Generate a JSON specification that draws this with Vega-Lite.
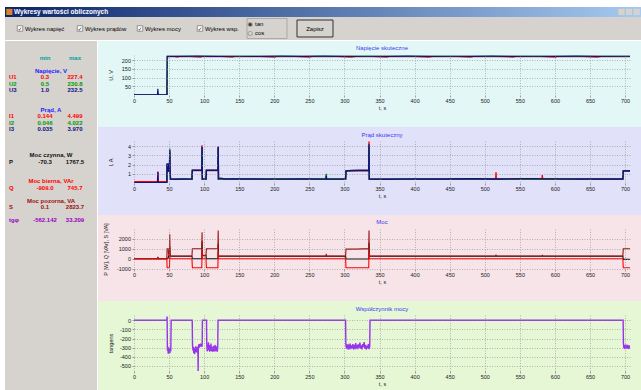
{
  "$schema": "https://vega.github.io/schema/vega-lite/v6.json",
  "background": "white",
  "padding": {"left": 5, "top": 7, "right": 0, "bottom": 0},
  "spacing": 0,
  "config": {
    "font": "Liberation Sans",
    "view": {"stroke": null},
    "concat": {"spacing": 0},
    "axis": {
      "labelFont": "Liberation Sans", "labelFontSize": 5.5, "labelColor": "#1a1a1a",
      "titleFont": "Liberation Sans", "titleFontSize": 5.5, "titleFontWeight": "normal", "titleColor": "#1a1a1a",
      "domain": false, "tickSize": 2, "tickColor": "#666666", "tickWidth": 0.6,
      "grid": true, "gridColor": "#8c8c8c", "gridDash": [1, 1.5], "gridWidth": 0.6,
      "labelPadding": 1.5, "labelOverlap": false, "labelFlush": false
    },
    "legend": {
      "labelFont": "Liberation Sans", "labelFontSize": 5, "labelColor": "#222222",
      "symbolType": "stroke", "symbolSize": 20, "symbolStrokeWidth": 1,
      "columnPadding": 3, "padding": 1.5, "fillColor": "#ffffff", "strokeColor": "#222222", "labelOffset": 1
    },
    "title": {"font": "Liberation Sans", "fontSize": 6, "fontWeight": "normal", "color": "#3a3af0", "anchor": "middle"}
  },
  "datasets": {
    "stats": [
      {"line": 0, "col": "min", "text": "min", "tone": "mm"},
      {"line": 0, "col": "max", "text": "max", "tone": "mm"},
      {"line": 2, "col": "head", "text": "Napięcie, V", "tone": "hdr"},
      {"line": 3, "col": "name", "text": "U1", "tone": "U1"},
      {"line": 3, "col": "min", "text": "0.3", "tone": "U1"},
      {"line": 3, "col": "max", "text": "227.4", "tone": "U1"},
      {"line": 4, "col": "name", "text": "U2", "tone": "U2"},
      {"line": 4, "col": "min", "text": "0.5", "tone": "U2"},
      {"line": 4, "col": "max", "text": "230.8", "tone": "U2"},
      {"line": 5, "col": "name", "text": "U3", "tone": "U3"},
      {"line": 5, "col": "min", "text": "1.0", "tone": "U3"},
      {"line": 5, "col": "max", "text": "232.5", "tone": "U3"},
      {"line": 8, "col": "head", "text": "Prąd, A", "tone": "hdr"},
      {"line": 9, "col": "name", "text": "I1", "tone": "I1"},
      {"line": 9, "col": "min", "text": "0.144", "tone": "I1"},
      {"line": 9, "col": "max", "text": "4.499", "tone": "I1"},
      {"line": 10, "col": "name", "text": "I2", "tone": "I2"},
      {"line": 10, "col": "min", "text": "0.046", "tone": "I2"},
      {"line": 10, "col": "max", "text": "4.022", "tone": "I2"},
      {"line": 11, "col": "name", "text": "I3", "tone": "I3"},
      {"line": 11, "col": "min", "text": "0.035", "tone": "I3"},
      {"line": 11, "col": "max", "text": "3.970", "tone": "I3"},
      {"line": 15, "col": "head", "text": "Moc czynna, W", "tone": "P"},
      {"line": 16, "col": "name", "text": "P", "tone": "P"},
      {"line": 16, "col": "min", "text": "-70.3", "tone": "P"},
      {"line": 16, "col": "max", "text": "1767.5", "tone": "P"},
      {"line": 19, "col": "head", "text": "Moc bierna, VAr", "tone": "Q"},
      {"line": 20, "col": "name", "text": "Q", "tone": "Q"},
      {"line": 20, "col": "min", "text": "-909.0", "tone": "Q"},
      {"line": 20, "col": "max", "text": "745.7", "tone": "Q"},
      {"line": 22, "col": "head", "text": "Moc pozorna, VA", "tone": "S"},
      {"line": 23, "col": "name", "text": "S", "tone": "S"},
      {"line": 23, "col": "min", "text": "0.1", "tone": "S"},
      {"line": 23, "col": "max", "text": "2823.7", "tone": "S"},
      {"line": 25, "col": "name", "text": "tgφ", "tone": "tg"},
      {"line": 25, "col": "min", "text": "-562.142", "tone": "tg"},
      {"line": 25, "col": "max", "text": "33.209", "tone": "tg"}
    ],
    "toolbar": [
      {"part": "napiec", "kind": "check", "label": "Wykres napięć"},
      {"part": "pradow", "kind": "check", "label": "Wykres prądów"},
      {"part": "mocy", "kind": "check", "label": "Wykres mocy"},
      {"part": "wsp", "kind": "check", "label": "Wykres wsp."},
      {"part": "tg", "kind": "radio", "label": "tan"},
      {"part": "tg", "kind": "radio", "label": "cos"},
      {"part": "zapisz", "kind": "button", "label": "Zapisz"}
    ],
    "volt": [
      {"t": 0, "s": "U1", "v": 0.3}, {"t": 33.6, "s": "U1", "v": 0.3}, {"t": 34, "s": "U1", "v": 20}, {"t": 34.4, "s": "U1", "v": 0.3},
      {"t": 47.3, "s": "U1", "v": 0.3}, {"t": 47.7, "s": "U1", "v": 221.0}, {"t": 55, "s": "U1", "v": 221.4}, {"t": 62, "s": "U1", "v": 218.2},
      {"t": 66, "s": "U1", "v": 221.2}, {"t": 80, "s": "U1", "v": 220.8}, {"t": 95, "s": "U1", "v": 218.0}, {"t": 99, "s": "U1", "v": 221.3},
      {"t": 125, "s": "U1", "v": 221.0}, {"t": 140, "s": "U1", "v": 218.3}, {"t": 146, "s": "U1", "v": 221.4}, {"t": 180, "s": "U1", "v": 220.9},
      {"t": 200, "s": "U1", "v": 217.9}, {"t": 206, "s": "U1", "v": 221.2}, {"t": 230, "s": "U1", "v": 221.0}, {"t": 250, "s": "U1", "v": 218.2},
      {"t": 256, "s": "U1", "v": 221.3}, {"t": 290, "s": "U1", "v": 220.8}, {"t": 310, "s": "U1", "v": 218.1}, {"t": 316, "s": "U1", "v": 221.2},
      {"t": 340, "s": "U1", "v": 221.0}, {"t": 360, "s": "U1", "v": 218.0}, {"t": 366, "s": "U1", "v": 221.4}, {"t": 400, "s": "U1", "v": 220.9},
      {"t": 420, "s": "U1", "v": 218.2}, {"t": 426, "s": "U1", "v": 221.1}, {"t": 460, "s": "U1", "v": 221.0}, {"t": 480, "s": "U1", "v": 218.1},
      {"t": 486, "s": "U1", "v": 221.3}, {"t": 520, "s": "U1", "v": 220.8}, {"t": 540, "s": "U1", "v": 218.0}, {"t": 546, "s": "U1", "v": 221.2},
      {"t": 580, "s": "U1", "v": 221.0}, {"t": 600, "s": "U1", "v": 218.2}, {"t": 606, "s": "U1", "v": 221.3}, {"t": 640, "s": "U1", "v": 220.9},
      {"t": 660, "s": "U1", "v": 218.1}, {"t": 666, "s": "U1", "v": 221.1}, {"t": 700, "s": "U1", "v": 221.0}, {"t": 707, "s": "U1", "v": 220.9},
      {"t": 0, "s": "U2", "v": 0.5}, {"t": 47.3, "s": "U2", "v": 0.5}, {"t": 47.7, "s": "U2", "v": 222.2}, {"t": 80, "s": "U2", "v": 222.4},
      {"t": 120, "s": "U2", "v": 221.9}, {"t": 160, "s": "U2", "v": 222.5}, {"t": 200, "s": "U2", "v": 222.1}, {"t": 240, "s": "U2", "v": 222.4},
      {"t": 280, "s": "U2", "v": 221.8}, {"t": 320, "s": "U2", "v": 222.3}, {"t": 360, "s": "U2", "v": 222.0}, {"t": 400, "s": "U2", "v": 222.5},
      {"t": 440, "s": "U2", "v": 222.2}, {"t": 480, "s": "U2", "v": 222.4}, {"t": 520, "s": "U2", "v": 221.9}, {"t": 560, "s": "U2", "v": 222.5},
      {"t": 600, "s": "U2", "v": 222.1}, {"t": 640, "s": "U2", "v": 222.4}, {"t": 680, "s": "U2", "v": 222.0}, {"t": 707, "s": "U2", "v": 222.3},
      {"t": 0, "s": "U3", "v": 1.0}, {"t": 33.6, "s": "U3", "v": 1.0}, {"t": 34, "s": "U3", "v": 36}, {"t": 34.4, "s": "U3", "v": 1.0},
      {"t": 46.8, "s": "U3", "v": 1.0}, {"t": 47.2, "s": "U3", "v": 222.8}, {"t": 60, "s": "U3", "v": 222.6}, {"t": 90, "s": "U3", "v": 223.0},
      {"t": 120, "s": "U3", "v": 222.5}, {"t": 150, "s": "U3", "v": 222.9}, {"t": 180, "s": "U3", "v": 222.4}, {"t": 210, "s": "U3", "v": 223.0},
      {"t": 240, "s": "U3", "v": 222.6}, {"t": 270, "s": "U3", "v": 223.1}, {"t": 300, "s": "U3", "v": 222.5}, {"t": 330, "s": "U3", "v": 222.9},
      {"t": 360, "s": "U3", "v": 222.6}, {"t": 390, "s": "U3", "v": 223.0}, {"t": 420, "s": "U3", "v": 222.4}, {"t": 450, "s": "U3", "v": 222.9},
      {"t": 480, "s": "U3", "v": 222.6}, {"t": 510, "s": "U3", "v": 223.0}, {"t": 540, "s": "U3", "v": 222.5}, {"t": 570, "s": "U3", "v": 222.9},
      {"t": 600, "s": "U3", "v": 222.6}, {"t": 630, "s": "U3", "v": 223.0}, {"t": 660, "s": "U3", "v": 222.5}, {"t": 690, "s": "U3", "v": 222.9},
      {"t": 707, "s": "U3", "v": 222.7}
    ],
    "curr": [
      {"t": 0, "s": "I1", "v": 0.144}, {"t": 33.6, "s": "I1", "v": 0.144}, {"t": 34, "s": "I1", "v": 1.25}, {"t": 34.4, "s": "I1", "v": 0.144},
      {"t": 46.8, "s": "I1", "v": 0.144}, {"t": 47.2, "s": "I1", "v": 2.0}, {"t": 48.8, "s": "I1", "v": 2.0}, {"t": 49.2, "s": "I1", "v": 1.28},
      {"t": 50.6, "s": "I1", "v": 1.28}, {"t": 51, "s": "I1", "v": 3.4}, {"t": 51.4, "s": "I1", "v": 1.28}, {"t": 52, "s": "I1", "v": 0.4},
      {"t": 82.6, "s": "I1", "v": 0.4}, {"t": 83.2, "s": "I1", "v": 1.36}, {"t": 96.6, "s": "I1", "v": 1.36}, {"t": 97, "s": "I1", "v": 4.1},
      {"t": 97.4, "s": "I1", "v": 0.4}, {"t": 102.6, "s": "I1", "v": 0.4}, {"t": 103.2, "s": "I1", "v": 1.36}, {"t": 119.6, "s": "I1", "v": 1.36},
      {"t": 120, "s": "I1", "v": 3.9}, {"t": 120.4, "s": "I1", "v": 0.42}, {"t": 301.6, "s": "I1", "v": 0.42}, {"t": 302.2, "s": "I1", "v": 1.32},
      {"t": 334.6, "s": "I1", "v": 1.36}, {"t": 335, "s": "I1", "v": 4.5}, {"t": 335.4, "s": "I1", "v": 0.4}, {"t": 515.6, "s": "I1", "v": 0.4},
      {"t": 516, "s": "I1", "v": 1.15}, {"t": 516.4, "s": "I1", "v": 0.4}, {"t": 581.6, "s": "I1", "v": 0.4}, {"t": 582, "s": "I1", "v": 0.85},
      {"t": 582.4, "s": "I1", "v": 0.4}, {"t": 696.8, "s": "I1", "v": 0.42}, {"t": 697.4, "s": "I1", "v": 1.3}, {"t": 707, "s": "I1", "v": 1.3},
      {"t": 0, "s": "I2", "v": 0.046}, {"t": 46.8, "s": "I2", "v": 0.046}, {"t": 47.2, "s": "I2", "v": 2.0}, {"t": 48.8, "s": "I2", "v": 2.0},
      {"t": 49.2, "s": "I2", "v": 1.3}, {"t": 50.6, "s": "I2", "v": 1.3}, {"t": 51, "s": "I2", "v": 3.75}, {"t": 51.4, "s": "I2", "v": 1.3},
      {"t": 52, "s": "I2", "v": 0.41}, {"t": 82.6, "s": "I2", "v": 0.41}, {"t": 83.2, "s": "I2", "v": 1.37}, {"t": 96.6, "s": "I2", "v": 1.37},
      {"t": 97, "s": "I2", "v": 3.8}, {"t": 97.4, "s": "I2", "v": 0.41}, {"t": 102.6, "s": "I2", "v": 0.41}, {"t": 103.2, "s": "I2", "v": 1.37},
      {"t": 119.6, "s": "I2", "v": 1.37}, {"t": 120, "s": "I2", "v": 3.8}, {"t": 120.4, "s": "I2", "v": 0.43}, {"t": 273.6, "s": "I2", "v": 0.43},
      {"t": 274, "s": "I2", "v": 1.0}, {"t": 274.4, "s": "I2", "v": 0.43}, {"t": 301.6, "s": "I2", "v": 0.43}, {"t": 302.2, "s": "I2", "v": 1.33},
      {"t": 334.6, "s": "I2", "v": 1.37}, {"t": 335, "s": "I2", "v": 4.0}, {"t": 335.4, "s": "I2", "v": 0.41}, {"t": 696.8, "s": "I2", "v": 0.42},
      {"t": 697.4, "s": "I2", "v": 1.3}, {"t": 707, "s": "I2", "v": 1.31},
      {"t": 0, "s": "I3", "v": 0.035}, {"t": 33.6, "s": "I3", "v": 0.035}, {"t": 34, "s": "I3", "v": 1.15}, {"t": 34.4, "s": "I3", "v": 0.035},
      {"t": 46.8, "s": "I3", "v": 0.035}, {"t": 47.2, "s": "I3", "v": 2.05}, {"t": 48.8, "s": "I3", "v": 2.05}, {"t": 49.2, "s": "I3", "v": 1.3},
      {"t": 50.6, "s": "I3", "v": 1.3}, {"t": 51, "s": "I3", "v": 3.55}, {"t": 51.4, "s": "I3", "v": 1.3}, {"t": 52, "s": "I3", "v": 0.42},
      {"t": 60, "s": "I3", "v": 0.41}, {"t": 70, "s": "I3", "v": 0.43}, {"t": 82.6, "s": "I3", "v": 0.42}, {"t": 83.2, "s": "I3", "v": 1.38},
      {"t": 90, "s": "I3", "v": 1.4}, {"t": 96.6, "s": "I3", "v": 1.38}, {"t": 97, "s": "I3", "v": 3.95}, {"t": 97.4, "s": "I3", "v": 0.42},
      {"t": 102.6, "s": "I3", "v": 0.42}, {"t": 103.2, "s": "I3", "v": 1.38}, {"t": 110, "s": "I3", "v": 1.4}, {"t": 119.6, "s": "I3", "v": 1.38},
      {"t": 120, "s": "I3", "v": 3.95}, {"t": 120.4, "s": "I3", "v": 0.45}, {"t": 123, "s": "I3", "v": 0.52}, {"t": 130, "s": "I3", "v": 0.44},
      {"t": 160, "s": "I3", "v": 0.43}, {"t": 200, "s": "I3", "v": 0.42}, {"t": 240, "s": "I3", "v": 0.43}, {"t": 273.6, "s": "I3", "v": 0.42},
      {"t": 274, "s": "I3", "v": 0.8}, {"t": 274.4, "s": "I3", "v": 0.42}, {"t": 301.6, "s": "I3", "v": 0.42}, {"t": 302.2, "s": "I3", "v": 1.3},
      {"t": 310, "s": "I3", "v": 1.36}, {"t": 320, "s": "I3", "v": 1.38}, {"t": 334.6, "s": "I3", "v": 1.38}, {"t": 335, "s": "I3", "v": 4.2},
      {"t": 335.4, "s": "I3", "v": 0.42}, {"t": 360, "s": "I3", "v": 0.4}, {"t": 400, "s": "I3", "v": 0.45}, {"t": 440, "s": "I3", "v": 0.43},
      {"t": 480, "s": "I3", "v": 0.46}, {"t": 520, "s": "I3", "v": 0.44}, {"t": 560, "s": "I3", "v": 0.47}, {"t": 600, "s": "I3", "v": 0.45},
      {"t": 640, "s": "I3", "v": 0.44}, {"t": 680, "s": "I3", "v": 0.43}, {"t": 696.8, "s": "I3", "v": 0.43}, {"t": 697.4, "s": "I3", "v": 1.3},
      {"t": 707, "s": "I3", "v": 1.32}
    ],
    "power": [
      {"t": 0, "s": "P", "v": -20}, {"t": 33.6, "s": "P", "v": -20}, {"t": 34, "s": "P", "v": 150}, {"t": 34.4, "s": "P", "v": -20},
      {"t": 46.8, "s": "P", "v": -20}, {"t": 47.2, "s": "P", "v": 50}, {"t": 48.8, "s": "P", "v": 50}, {"t": 49.2, "s": "P", "v": 300},
      {"t": 50.6, "s": "P", "v": 300}, {"t": 51, "s": "P", "v": 1200}, {"t": 51.4, "s": "P", "v": 300}, {"t": 52, "s": "P", "v": 245},
      {"t": 82.6, "s": "P", "v": 245}, {"t": 83.2, "s": "P", "v": -10}, {"t": 96.6, "s": "P", "v": -10}, {"t": 97, "s": "P", "v": 1767},
      {"t": 97.4, "s": "P", "v": 310}, {"t": 102.6, "s": "P", "v": 310}, {"t": 103.2, "s": "P", "v": -10}, {"t": 119.6, "s": "P", "v": -10},
      {"t": 120, "s": "P", "v": 1500}, {"t": 120.4, "s": "P", "v": 250}, {"t": 301.6, "s": "P", "v": 248}, {"t": 302.2, "s": "P", "v": -30},
      {"t": 334.6, "s": "P", "v": -30}, {"t": 335, "s": "P", "v": 1600}, {"t": 335.4, "s": "P", "v": 250}, {"t": 696.8, "s": "P", "v": 250},
      {"t": 697.4, "s": "P", "v": -70}, {"t": 707, "s": "P", "v": -60},
      {"t": 0, "s": "S", "v": 5}, {"t": 33.6, "s": "S", "v": 5}, {"t": 34, "s": "S", "v": 180}, {"t": 34.4, "s": "S", "v": 5},
      {"t": 46.8, "s": "S", "v": 5}, {"t": 47.2, "s": "S", "v": 1000}, {"t": 48.8, "s": "S", "v": 1000}, {"t": 49.2, "s": "S", "v": 450},
      {"t": 50.6, "s": "S", "v": 450}, {"t": 51, "s": "S", "v": 2450}, {"t": 51.4, "s": "S", "v": 400}, {"t": 52, "s": "S", "v": 265},
      {"t": 82.6, "s": "S", "v": 265}, {"t": 83.2, "s": "S", "v": 1000}, {"t": 96.6, "s": "S", "v": 1000}, {"t": 97, "s": "S", "v": 2650},
      {"t": 97.4, "s": "S", "v": 330}, {"t": 102.6, "s": "S", "v": 330}, {"t": 103.2, "s": "S", "v": 1000}, {"t": 119.6, "s": "S", "v": 1000},
      {"t": 120, "s": "S", "v": 2820}, {"t": 120.4, "s": "S", "v": 280}, {"t": 140, "s": "S", "v": 265}, {"t": 200, "s": "S", "v": 262},
      {"t": 273.6, "s": "S", "v": 262}, {"t": 274, "s": "S", "v": 500}, {"t": 274.4, "s": "S", "v": 262}, {"t": 301.6, "s": "S", "v": 262},
      {"t": 302.2, "s": "S", "v": 960}, {"t": 310, "s": "S", "v": 975}, {"t": 318, "s": "S", "v": 960}, {"t": 326, "s": "S", "v": 980},
      {"t": 334.6, "s": "S", "v": 990}, {"t": 335, "s": "S", "v": 2823}, {"t": 335.4, "s": "S", "v": 270}, {"t": 400, "s": "S", "v": 268},
      {"t": 515.6, "s": "S", "v": 268}, {"t": 516, "s": "S", "v": 420}, {"t": 516.4, "s": "S", "v": 268}, {"t": 581.6, "s": "S", "v": 268},
      {"t": 582, "s": "S", "v": 380}, {"t": 582.4, "s": "S", "v": 268}, {"t": 696.8, "s": "S", "v": 268}, {"t": 697.4, "s": "S", "v": 1000},
      {"t": 707, "s": "S", "v": 1000},
      {"t": 0, "s": "Q", "v": 0}, {"t": 46.8, "s": "Q", "v": 0}, {"t": 47.2, "s": "Q", "v": -909}, {"t": 50.6, "s": "Q", "v": -909},
      {"t": 51, "s": "Q", "v": 600}, {"t": 51.4, "s": "Q", "v": 0}, {"t": 82.6, "s": "Q", "v": 0}, {"t": 83.2, "s": "Q", "v": -905},
      {"t": 96.6, "s": "Q", "v": -905}, {"t": 97, "s": "Q", "v": 745}, {"t": 97.4, "s": "Q", "v": 0}, {"t": 102.6, "s": "Q", "v": 0},
      {"t": 103.2, "s": "Q", "v": -905}, {"t": 119.6, "s": "Q", "v": -905}, {"t": 120, "s": "Q", "v": 700}, {"t": 120.4, "s": "Q", "v": 0},
      {"t": 301.6, "s": "Q", "v": 0}, {"t": 302.2, "s": "Q", "v": -895}, {"t": 334.6, "s": "Q", "v": -900}, {"t": 335, "s": "Q", "v": 730},
      {"t": 335.4, "s": "Q", "v": 0}, {"t": 696.8, "s": "Q", "v": 0}, {"t": 697.4, "s": "Q", "v": -900}, {"t": 707, "s": "Q", "v": -900}
    ],
    "tg": [
      {"t": 0, "v": 0}, {"t": 46.8, "v": 0}, {"t": 47.2, "v": 40}, {"t": 47.6, "v": -330}, {"t": 48.2, "v": -290}, {"t": 48.8, "v": -365},
      {"t": 49.4, "v": -300}, {"t": 50, "v": -350}, {"t": 50.6, "v": -320}, {"t": 51.2, "v": -360}, {"t": 51.8, "v": -300}, {"t": 52.4, "v": -340},
      {"t": 53, "v": 0}, {"t": 83, "v": 0}, {"t": 83.4, "v": -270}, {"t": 84, "v": -330}, {"t": 84.6, "v": -290}, {"t": 85.2, "v": -360},
      {"t": 85.8, "v": -300}, {"t": 86.4, "v": -370}, {"t": 87, "v": -310}, {"t": 87.6, "v": -350}, {"t": 88.2, "v": -285}, {"t": 88.8, "v": -345},
      {"t": 89.4, "v": -300}, {"t": 90, "v": -355}, {"t": 90.6, "v": -290}, {"t": 91.1, "v": -330}, {"t": 91.4, "v": -560}, {"t": 91.7, "v": -300},
      {"t": 92.3, "v": -265}, {"t": 93, "v": -300}, {"t": 93.6, "v": -260}, {"t": 94.2, "v": -290}, {"t": 94.8, "v": -255}, {"t": 95.4, "v": -285},
      {"t": 96, "v": -260}, {"t": 96.6, "v": -290}, {"t": 97.2, "v": -270}, {"t": 97.5, "v": 0}, {"t": 103.4, "v": 0}, {"t": 103.7, "v": -260},
      {"t": 104.3, "v": -340}, {"t": 104.9, "v": -280}, {"t": 105.5, "v": -320}, {"t": 106.1, "v": -240}, {"t": 106.7, "v": -330}, {"t": 107.3, "v": -270},
      {"t": 107.9, "v": -345}, {"t": 108.5, "v": -290}, {"t": 109.1, "v": -330}, {"t": 109.7, "v": -255}, {"t": 110.3, "v": -335}, {"t": 110.9, "v": -290},
      {"t": 111.5, "v": -345}, {"t": 112.1, "v": -300}, {"t": 112.7, "v": -330}, {"t": 113.3, "v": -280}, {"t": 113.9, "v": -345}, {"t": 114.5, "v": -300},
      {"t": 115.1, "v": -335}, {"t": 115.7, "v": -270}, {"t": 116.3, "v": -340}, {"t": 116.9, "v": -300}, {"t": 117.5, "v": -330}, {"t": 118.1, "v": -285},
      {"t": 118.7, "v": -345}, {"t": 119.3, "v": -300}, {"t": 119.8, "v": 0}, {"t": 301.6, "v": 0}, {"t": 302, "v": -270}, {"t": 303, "v": -310},
      {"t": 304, "v": -265}, {"t": 305, "v": -320}, {"t": 306, "v": -280}, {"t": 307, "v": -300}, {"t": 308, "v": -255}, {"t": 309, "v": -315},
      {"t": 310, "v": -275}, {"t": 311, "v": -305}, {"t": 312, "v": -260}, {"t": 313, "v": -320}, {"t": 314, "v": -285}, {"t": 315, "v": -300},
      {"t": 316, "v": -250}, {"t": 317, "v": -310}, {"t": 318, "v": -270}, {"t": 319, "v": -315}, {"t": 320, "v": -265}, {"t": 321, "v": -300},
      {"t": 322, "v": -245}, {"t": 323, "v": -310}, {"t": 324, "v": -275}, {"t": 325, "v": -320}, {"t": 326, "v": -260}, {"t": 327, "v": -295},
      {"t": 328, "v": -240}, {"t": 329, "v": -310}, {"t": 330, "v": -270}, {"t": 331, "v": -320}, {"t": 332, "v": -280}, {"t": 333, "v": -305},
      {"t": 334, "v": -260}, {"t": 335, "v": -315}, {"t": 336, "v": -285}, {"t": 336.4, "v": 0}, {"t": 697.2, "v": 0}, {"t": 697.6, "v": -250},
      {"t": 698.2, "v": -305}, {"t": 698.8, "v": -270}, {"t": 699.4, "v": -315}, {"t": 700, "v": -280}, {"t": 700.6, "v": -300}, {"t": 701.2, "v": -265},
      {"t": 701.8, "v": -310}, {"t": 702.4, "v": -285}, {"t": 703, "v": -300}, {"t": 703.6, "v": -270}, {"t": 704.2, "v": -315}, {"t": 704.8, "v": -290},
      {"t": 705.4, "v": -305}, {"t": 706, "v": -275}, {"t": 706.6, "v": -310}, {"t": 707, "v": -290}
    ]
  },
  "vconcat": [
    {
      "width": 636,
      "height": 10,
      "data": {"values": [{"caption": "Wykresy wartości obliczonych"}]},
      "layer": [
        {
          "mark": {"type": "rect", "color": {"gradient": "linear", "x1": 0, "y1": 0, "x2": 1, "y2": 0, "stops": [{"offset": 0, "color": "#0a246a"}, {"offset": 1, "color": "#a6caf0"}]}},
          "encoding": {}
        },
        {
          "mark": {"type": "text", "text": "■", "font": "DejaVu Sans", "fontSize": 8, "color": "#d9822b", "align": "center", "dx": 4},
          "encoding": {"x": {"datum": 0, "type": "quantitative", "scale": {"domain": [0, 1], "nice": false, "zero": false}, "axis": null}}
        },
        {
          "mark": {"type": "text", "fontSize": 6.5, "fontWeight": "bold", "color": "#ffffff", "align": "left", "dx": 9},
          "encoding": {
            "x": {"datum": 0, "type": "quantitative", "scale": {"domain": [0, 1], "nice": false, "zero": false}, "axis": null},
            "text": {"field": "caption"}
          }
        },
        {
          "mark": {"type": "text", "text": "■■■", "font": "DejaVu Sans", "fontSize": 8, "color": "#d6d3ce", "align": "right", "dx": -1},
          "encoding": {"x": {"datum": 1, "type": "quantitative", "scale": {"domain": [0, 1], "nice": false, "zero": false}, "axis": null}}
        }
      ]
    },
    {
      "width": 636,
      "height": 23,
      "view": {"fill": "#d6d3ce", "stroke": null},
      "data": {"name": "toolbar"},
      "encoding": {
        "x": {"field": "part", "type": "nominal", "scale": {"type": "point", "padding": 0, "domain": ["napiec", "pradow", "mocy", "wsp", "tg", "zapisz"], "range": [15, 315]}, "axis": null}
      },
      "layer": [
        {
          "transform": [{"filter": "datum.label === 'tan'"}],
          "mark": {"type": "point", "shape": "M-0.65,-0.5L1.35,-0.5L1.35,0.5L-0.65,0.5Z", "size": 1600, "filled": false, "stroke": "#9a9a9a", "strokeWidth": 0.7, "opacity": 1}
        },
        {
          "transform": [{"filter": "datum.kind === 'check'"}],
          "mark": {"type": "point", "shape": "square", "size": 30, "filled": true, "fill": "#ffffff", "stroke": "#707070", "strokeWidth": 0.7, "opacity": 1}
        },
        {
          "transform": [{"filter": "datum.kind === 'check'"}],
          "mark": {"type": "text", "text": "✓", "font": "DejaVu Sans", "fontSize": 5.5, "color": "#000000"}
        },
        {
          "transform": [{"filter": "datum.kind === 'check'"}],
          "mark": {"type": "text", "fontSize": 6, "color": "#000000", "align": "left", "dx": 5},
          "encoding": {"text": {"field": "label"}}
        },
        {
          "transform": [{"filter": "datum.label === 'tan'"}],
          "mark": {"type": "text", "text": "◉", "font": "DejaVu Sans", "fontSize": 6, "color": "#333333", "dx": -10, "dy": -4.5}
        },
        {
          "transform": [{"filter": "datum.label === 'cos'"}],
          "mark": {"type": "text", "text": "○", "font": "DejaVu Sans", "fontSize": 6, "color": "#333333", "dx": -10, "dy": 4}
        },
        {
          "transform": [{"filter": "datum.label === 'tan'"}],
          "mark": {"type": "text", "fontSize": 6, "color": "#000000", "align": "left", "dx": -5, "dy": -4.5},
          "encoding": {"text": {"field": "label"}}
        },
        {
          "transform": [{"filter": "datum.label === 'cos'"}],
          "mark": {"type": "text", "fontSize": 6, "color": "#000000", "align": "left", "dx": -5, "dy": 4},
          "encoding": {"text": {"field": "label"}}
        },
        {
          "transform": [{"filter": "datum.kind === 'button'"}],
          "mark": {"type": "point", "shape": "M-1.278,-0.472L0.722,-0.472L0.722,0.472L-1.278,0.472Z", "size": 1296, "filled": true, "fill": "#d6d3ce", "stroke": "#333333", "strokeWidth": 1, "opacity": 1}
        },
        {
          "transform": [{"filter": "datum.kind === 'button'"}],
          "mark": {"type": "text", "fontSize": 6, "color": "#000000", "dx": -5},
          "encoding": {"text": {"field": "label"}}
        }
      ]
    },
    {
      "hconcat": [
        {
          "width": 92,
          "height": 336,
          "view": {"fill": "#d6d3ce", "stroke": null},
          "layer": [
            {
              "data": {"values": [{}]},
              "mark": {"type": "rect", "color": "#d6d3ce", "clip": false},
              "encoding": {
                "y": {"datum": -2.569, "type": "quantitative", "scale": {"domain": [-0.4154, 51.277], "reverse": true, "nice": false, "zero": false}, "axis": null},
                "y2": {"datum": 51.277}
              }
            },
            {
              "data": {"name": "stats"},
              "transform": [{"filter": "datum.col === 'name'"}],
              "mark": {"type": "text", "align": "left", "baseline": "middle", "dx": -6, "fontSize": 6, "fontWeight": "bold"},
              "encoding": {
                "x": {"field": "col", "type": "nominal", "scale": {"type": "point", "padding": 0, "domain": ["name", "min", "max"], "range": [10, 70]}, "axis": null},
                "y": {"field": "line", "type": "quantitative", "scale": {"domain": [-0.4154, 51.277], "reverse": true, "nice": false, "zero": false}, "axis": null},
                "text": {"field": "text"},
                "color": {"field": "tone", "type": "nominal", "legend": null,
                  "scale": {"domain": ["mm", "hdr", "U1", "U2", "U3", "I1", "I2", "I3", "P", "Q", "S", "tg"],
                    "range": ["#00a0a0", "#1a1aff", "#ff0000", "#009a00", "#101088", "#ff0000", "#009a00", "#101088", "#111111", "#ff0000", "#9a1010", "#9a00c0"]}}
              }
            },
            {
              "data": {"name": "stats"},
              "transform": [{"filter": "datum.col === 'min' || datum.col === 'max'"}],
              "mark": {"type": "text", "align": "center", "baseline": "middle", "fontSize": 6, "fontWeight": "bold"},
              "encoding": {
                "x": {"field": "col", "type": "nominal", "scale": {"type": "point", "padding": 0, "domain": ["name", "min", "max"], "range": [10, 70]}, "axis": null},
                "y": {"field": "line", "type": "quantitative", "scale": {"domain": [-0.4154, 51.277], "reverse": true, "nice": false, "zero": false}, "axis": null},
                "text": {"field": "text"},
                "color": {"field": "tone", "type": "nominal", "legend": null,
                  "scale": {"domain": ["mm", "hdr", "U1", "U2", "U3", "I1", "I2", "I3", "P", "Q", "S", "tg"],
                    "range": ["#00a0a0", "#1a1aff", "#ff0000", "#009a00", "#101088", "#ff0000", "#009a00", "#101088", "#111111", "#ff0000", "#9a1010", "#9a00c0"]}}
              }
            },
            {
              "data": {"name": "stats"},
              "transform": [{"filter": "datum.col === 'head'"}],
              "mark": {"type": "text", "align": "center", "baseline": "middle", "fontSize": 6, "fontWeight": "bold"},
              "encoding": {
                "y": {"field": "line", "type": "quantitative", "scale": {"domain": [-0.4154, 51.277], "reverse": true, "nice": false, "zero": false}, "axis": null},
                "text": {"field": "text"},
                "color": {"field": "tone", "type": "nominal", "legend": null,
                  "scale": {"domain": ["mm", "hdr", "U1", "U2", "U3", "I1", "I2", "I3", "P", "Q", "S", "tg"],
                    "range": ["#00a0a0", "#1a1aff", "#ff0000", "#009a00", "#101088", "#ff0000", "#009a00", "#101088", "#111111", "#ff0000", "#9a1010", "#9a00c0"]}}
              }
            }
          ]
        },
        {
          "bounds": "flush",
          "spacing": 46,
          "vconcat": [
            {
              "width": 496,
              "height": 40,
              "view": {"stroke": "#8a8a8a", "strokeWidth": 1.5},
              "title": {"text": "Napięcie skuteczne", "offset": -10},
              "layer": [
                {
                  "data": {"values": [{}]},
                  "mark": {"type": "rect", "color": "#e4f7f7", "clip": false},
                  "encoding": {
                    "x": {"datum": -51.31, "type": "quantitative", "scale": {"domain": [0, 707], "nice": false, "zero": false},
                      "axis": {"values": [0, 50, 100, 150, 200, 250, 300, 350, 400, 450, 500, 550, 600, 650, 700], "title": "t, s", "titlePadding": 1, "zindex": 1}},
                    "x2": {"datum": 724.1},
                    "y": {"datum": 310.5, "type": "quantitative", "scale": {"domain": [0, 230], "nice": false, "zero": false},
                      "axis": {"values": [50, 100, 150, 200], "title": "U, V", "titleX": -21, "titleY": 20, "zindex": 1}},
                    "y2": {"datum": -184}
                  }
                },
                {
                  "data": {"name": "volt"},
                  "mark": {"type": "line", "strokeWidth": 1.2, "clip": true},
                  "encoding": {
                    "x": {"field": "t", "type": "quantitative", "scale": {"domain": [0, 707], "nice": false, "zero": false},
                      "axis": {"values": [0, 50, 100, 150, 200, 250, 300, 350, 400, 450, 500, 550, 600, 650, 700], "title": "t, s", "titlePadding": 1, "zindex": 1}},
                    "y": {"field": "v", "type": "quantitative", "scale": {"domain": [0, 230], "nice": false, "zero": false},
                      "axis": {"values": [50, 100, 150, 200], "title": "U, V", "titleX": -21, "titleY": 20, "zindex": 1}},
                    "color": {"field": "s", "type": "nominal",
                      "scale": {"domain": ["U1", "U2", "U3"], "range": ["#ff0000", "#00b000", "#3a3ad6"]},
                      "legend": {"title": null, "orient": "none", "legendX": 265, "legendY": 61, "direction": "horizontal"}}
                  }
                }
              ]
            },
            {
              "width": 496,
              "height": 42,
              "view": {"stroke": "#8a8a8a", "strokeWidth": 1.5},
              "title": {"text": "Prąd skuteczny", "offset": -11},
              "layer": [
                {
                  "data": {"values": [{}]},
                  "mark": {"type": "rect", "color": "#e1e1f9", "clip": false},
                  "encoding": {
                    "x": {"datum": -51.31, "type": "quantitative", "scale": {"domain": [0, 707], "nice": false, "zero": false},
                      "axis": {"values": [0, 50, 100, 150, 200, 250, 300, 350, 400, 450, 500, 550, 600, 650, 700], "title": "t, s", "titlePadding": 1, "zindex": 1}},
                    "x2": {"datum": 724.1},
                    "y": {"datum": 6.0667, "type": "quantitative", "scale": {"domain": [0, 4.55], "nice": false, "zero": false},
                      "axis": {"values": [1, 2, 3, 4], "title": "I, A", "titleX": -21, "titleY": 21, "zindex": 1}},
                    "y2": {"datum": -3.4667}
                  }
                },
                {
                  "data": {"name": "curr"},
                  "mark": {"type": "line", "strokeWidth": 1.4, "clip": true},
                  "encoding": {
                    "x": {"field": "t", "type": "quantitative", "scale": {"domain": [0, 707], "nice": false, "zero": false},
                      "axis": {"values": [0, 50, 100, 150, 200, 250, 300, 350, 400, 450, 500, 550, 600, 650, 700], "title": "t, s", "titlePadding": 1, "zindex": 1}},
                    "y": {"field": "v", "type": "quantitative", "scale": {"domain": [0, 4.55], "nice": false, "zero": false},
                      "axis": {"values": [1, 2, 3, 4], "title": "I, A", "titleX": -21, "titleY": 21, "zindex": 1}},
                    "color": {"field": "s", "type": "nominal",
                      "scale": {"domain": ["I1", "I2", "I3"], "range": ["#ff0000", "#00b000", "#3434d4"]},
                      "legend": {"title": null, "orient": "none", "legendX": 270, "legendY": 62, "direction": "horizontal"}}
                  }
                }
              ]
            },
            {
              "width": 496,
              "height": 40,
              "view": {"stroke": "#8a8a8a", "strokeWidth": 1.5},
              "title": {"text": "Moc", "offset": -9.5},
              "layer": [
                {
                  "data": {"values": [{}]},
                  "mark": {"type": "rect", "color": "#f7e4e8", "clip": false},
                  "encoding": {
                    "x": {"datum": -51.31, "type": "quantitative", "scale": {"domain": [0, 707], "nice": false, "zero": false},
                      "axis": {"values": [0, 50, 100, 150, 200, 250, 300, 350, 400, 450, 500, 550, 600, 650, 700], "title": "t, s", "titlePadding": 1, "zindex": 1}},
                    "x2": {"datum": 724.1},
                    "y": {"datum": 4370, "type": "quantitative", "scale": {"domain": [-1030, 2970], "nice": false, "zero": false},
                      "axis": {"values": [-1000, 0, 1000, 2000], "labelExpr": "toString(datum.value)", "title": "P [W], Q [VAr], S [VA]", "titleX": -26, "titleY": 20, "zindex": 1}},
                    "y2": {"datum": -4230}
                  }
                },
                {
                  "data": {"name": "power"},
                  "transform": [{"filter": "datum.s === 'P'"}],
                  "mark": {"type": "line", "strokeWidth": 1.1, "clip": true},
                  "encoding": {
                    "x": {"field": "t", "type": "quantitative", "scale": {"domain": [0, 707], "nice": false, "zero": false},
                      "axis": {"values": [0, 50, 100, 150, 200, 250, 300, 350, 400, 450, 500, 550, 600, 650, 700], "title": "t, s", "titlePadding": 1, "zindex": 1}},
                    "y": {"field": "v", "type": "quantitative", "scale": {"domain": [-1030, 2970], "nice": false, "zero": false},
                      "axis": {"values": [-1000, 0, 1000, 2000], "labelExpr": "toString(datum.value)", "title": "P [W], Q [VAr], S [VA]", "titleX": -26, "titleY": 20, "zindex": 1}},
                    "color": {"field": "s", "type": "nominal",
                      "scale": {"domain": ["P", "S", "Q"], "range": ["#f04848", "#3a3a3a", "#ff0000"]},
                      "legend": {"title": null, "orient": "none", "legendX": 270, "legendY": 61, "direction": "horizontal"}}
                  }
                },
                {
                  "data": {"name": "power"},
                  "transform": [{"filter": "datum.s === 'S'"}],
                  "mark": {"type": "line", "strokeWidth": 1.1, "clip": true},
                  "encoding": {
                    "x": {"field": "t", "type": "quantitative", "scale": {"domain": [0, 707], "nice": false, "zero": false},
                      "axis": {"values": [0, 50, 100, 150, 200, 250, 300, 350, 400, 450, 500, 550, 600, 650, 700], "title": "t, s", "titlePadding": 1, "zindex": 1}},
                    "y": {"field": "v", "type": "quantitative", "scale": {"domain": [-1030, 2970], "nice": false, "zero": false},
                      "axis": {"values": [-1000, 0, 1000, 2000], "labelExpr": "toString(datum.value)", "title": "P [W], Q [VAr], S [VA]", "titleX": -26, "titleY": 20, "zindex": 1}},
                    "color": {"field": "s", "type": "nominal",
                      "scale": {"domain": ["P", "S", "Q"], "range": ["#f04848", "#3a3a3a", "#ff0000"]},
                      "legend": {"title": null, "orient": "none", "legendX": 270, "legendY": 61, "direction": "horizontal"}}
                  }
                },
                {
                  "data": {"name": "power"},
                  "transform": [{"filter": "datum.s === 'Q'"}],
                  "mark": {"type": "line", "strokeWidth": 1.1, "clip": true},
                  "encoding": {
                    "x": {"field": "t", "type": "quantitative", "scale": {"domain": [0, 707], "nice": false, "zero": false},
                      "axis": {"values": [0, 50, 100, 150, 200, 250, 300, 350, 400, 450, 500, 550, 600, 650, 700], "title": "t, s", "titlePadding": 1, "zindex": 1}},
                    "y": {"field": "v", "type": "quantitative", "scale": {"domain": [-1030, 2970], "nice": false, "zero": false},
                      "axis": {"values": [-1000, 0, 1000, 2000], "labelExpr": "toString(datum.value)", "title": "P [W], Q [VAr], S [VA]", "titleX": -26, "titleY": 20, "zindex": 1}},
                    "color": {"field": "s", "type": "nominal",
                      "scale": {"domain": ["P", "S", "Q"], "range": ["#f04848", "#3a3a3a", "#ff0000"]},
                      "legend": {"title": null, "orient": "none", "legendX": 270, "legendY": 61, "direction": "horizontal"}}
                  }
                }
              ]
            },
            {
              "width": 496,
              "height": 56,
              "view": {"stroke": "#8a8a8a", "strokeWidth": 1.5},
              "title": {"text": "Współczynnik mocy", "offset": -11},
              "layer": [
                {
                  "data": {"values": [{}]},
                  "mark": {"type": "rect", "color": "#e6f7d5", "clip": false},
                  "encoding": {
                    "x": {"datum": -51.31, "type": "quantitative", "scale": {"domain": [0, 707], "nice": false, "zero": false},
                      "axis": {"values": [0, 50, 100, 150, 200, 250, 300, 350, 400, 450, 500, 550, 600, 650, 700], "title": "t, s", "titlePadding": 1, "zindex": 1}},
                    "x2": {"datum": 724.1},
                    "y": {"datum": 210, "type": "quantitative", "scale": {"domain": [-555, 57], "nice": false, "zero": false},
                      "axis": {"values": [0, -100, -200, -300, -400, -500], "labelExpr": "toString(datum.value)", "title": "tangens", "titleX": -21, "titleY": 28, "zindex": 1}},
                    "y2": {"datum": -773.57}
                  }
                },
                {
                  "data": {"name": "tg"},
                  "mark": {"type": "line", "strokeWidth": 1.4, "clip": true, "color": "#9a30f0"},
                  "encoding": {
                    "x": {"field": "t", "type": "quantitative", "scale": {"domain": [0, 707], "nice": false, "zero": false},
                      "axis": {"values": [0, 50, 100, 150, 200, 250, 300, 350, 400, 450, 500, 550, 600, 650, 700], "title": "t, s", "titlePadding": 1, "zindex": 1}},
                    "y": {"field": "v", "type": "quantitative", "scale": {"domain": [-555, 57], "nice": false, "zero": false},
                      "axis": {"values": [0, -100, -200, -300, -400, -500], "labelExpr": "toString(datum.value)", "title": "tangens", "titleX": -21, "titleY": 28, "zindex": 1}}
                  }
                }
              ]
            }
          ]
        }
      ]
    }
  ]
}
